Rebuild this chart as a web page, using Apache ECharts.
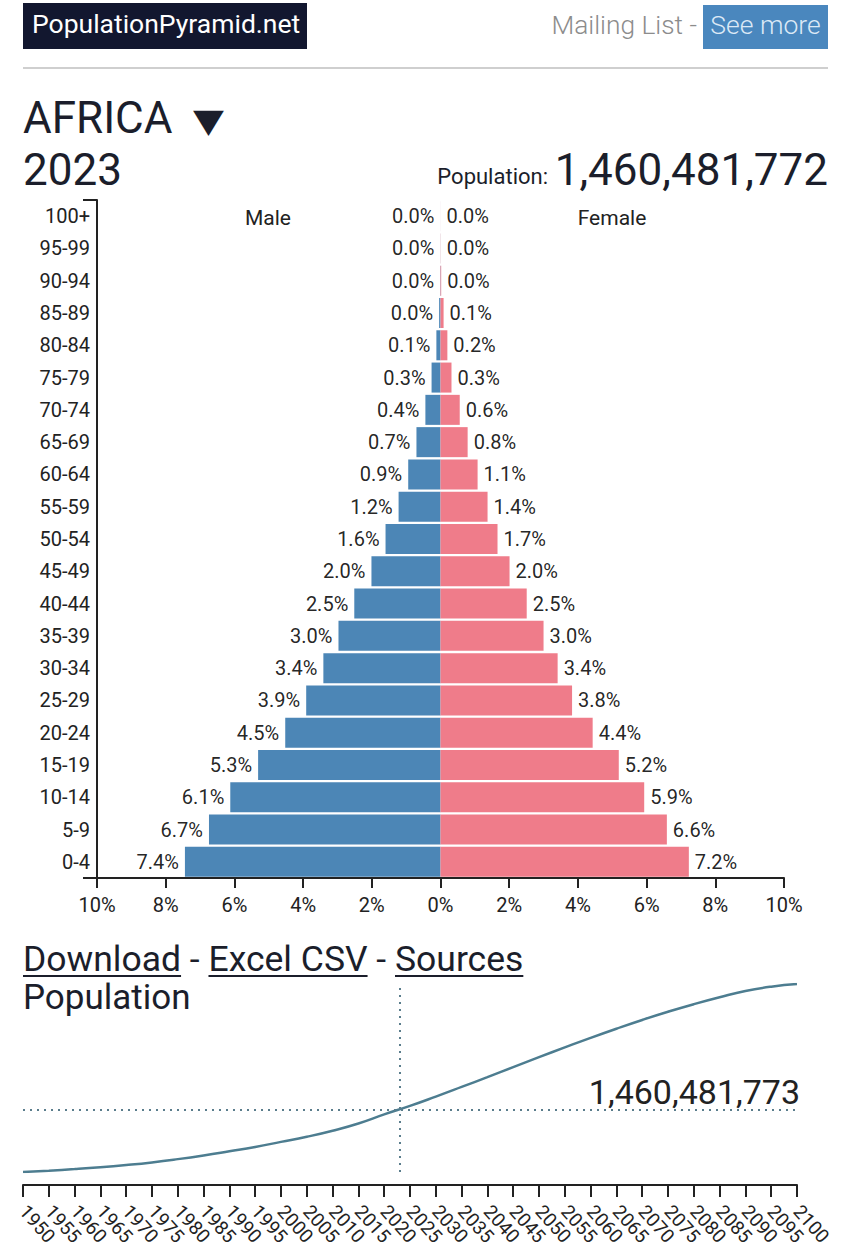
<!DOCTYPE html>
<html>
<head>
<meta charset="utf-8">
<script src="https://cdn.jsdelivr.net/npm/echarts@6/dist/echarts.min.js"></script>
<style>
  html, body { margin: 0; padding: 0; background: #fff; }
  body { width: 850px; height: 1259px; position: relative; overflow: hidden; font-family: Roboto, "Noto Sans", sans-serif; color: #1b1e2b; }
  #chart { position: absolute; left: 0; top: 0; width: 850px; height: 1259px; }
  .t { position: absolute; line-height: 1; white-space: nowrap; }
  .u { text-decoration: underline; text-decoration-thickness: 2px; text-underline-offset: 4px; }
</style>
</head>
<body>
<div id="chart"></div>

<div class="t" style="left:23px;top:3px;width:284px;height:46px;background:#12172f;"></div>
<div class="t" style="left:32px;top:11px;font-size:26.5px;color:#fff;">PopulationPyramid.net</div>
<div class="t" style="right:153px;top:12px;font-size:26.3px;font-weight:300;color:#8c8c8c;">Mailing List -</div>
<div class="t" style="left:703px;top:5px;width:125px;height:44px;background:#4a87be;"></div>
<div class="t" style="left:703px;top:12px;width:125px;text-align:center;font-size:26.5px;font-weight:300;color:#dce9f6;">See more</div>
<div class="t" style="left:23px;top:67px;width:805px;height:0;border-top:2px solid #cfcfcf;"></div>

<div class="t" style="left:23px;top:96px;font-size:44px;">AFRICA</div>
<div class="t" style="left:193px;top:104px;font-size:33px;font-family:'DejaVu Sans';transform:scaleX(1.22);transform-origin:left top;">▼</div>
<div class="t" style="left:23px;top:148px;font-size:44px;">2023</div>
<div class="t" style="right:302px;top:166px;font-size:22px;">Population:</div>
<div class="t" style="right:22px;top:148px;font-size:44px;">1,460,481,772</div>

<div class="t" style="left:228px;width:80px;text-align:center;top:208px;font-size:21px;color:#222;">Male</div>
<div class="t" style="left:562px;width:100px;text-align:center;top:208px;font-size:21px;color:#222;">Female</div>

<div class="t" style="left:23px;top:942px;font-size:35.5px;"><span class="u">Download</span> - <span class="u">Excel CSV</span> - <span class="u">Sources</span></div>
<div class="t" style="left:23px;top:980px;font-size:35px;">Population</div>

<script>
// ---- Pyramid data (share of total population, %) ----
const ageGroups = ['0-4','5-9','10-14','15-19','20-24','25-29','30-34','35-39','40-44','45-49','50-54','55-59','60-64','65-69','70-74','75-79','80-84','85-89','90-94','95-99','100+'];
const maleShare = [7.44, 6.74, 6.12, 5.31, 4.52, 3.91, 3.41, 2.97, 2.51, 2.01, 1.60, 1.22, 0.94, 0.70, 0.44, 0.26, 0.12, 0.04, 0.01, 0.002, 0.0005];
const femaleShare = [7.23, 6.59, 5.93, 5.19, 4.43, 3.83, 3.41, 3.00, 2.51, 2.01, 1.66, 1.37, 1.08, 0.79, 0.56, 0.32, 0.20, 0.09, 0.02, 0.004, 0.001];
const shareTicks = [-10, -8, -6, -4, -2, 0, 2, 4, 6, 8, 10];

// ---- Population over time (millions) ----
const years = [1950,1955,1960,1965,1970,1975,1980,1985,1990,1995,2000,2005,2010,2015,2020,2025,2030,2035,2040,2045,2050,2055,2060,2065,2070,2075,2080,2085,2090,2095,2100];
const populationM = [227,254,284,320,364,416,480,553,635,720,819,920,1039,1182,1360,1527,1710,1900,2093,2290,2485,2677,2865,3045,3217,3378,3527,3663,3786,3872,3924];
const currentYear = 2023;
const currentPopulation = 1460481773;

const ink = '#222';
const chart = echarts.init(document.getElementById('chart'), null, { renderer: 'svg' });

chart.setOption({
  animation: false,
  textStyle: { fontFamily: 'Roboto, "Noto Sans", sans-serif' },
  grid: [
    { left: 97, top: 200, width: 687, height: 678 },
    { left: 23, top: 984, width: 774, height: 188 }
  ],
  xAxis: [
    {
      type: 'value', gridIndex: 0, min: shareTicks[0], max: shareTicks[shareTicks.length - 1], interval: 2,
      axisLine: { show: true, onZero: false, lineStyle: { color: ink, width: 2 } },
      axisTick: { show: true, length: 10, lineStyle: { color: ink, width: 2 } },
      axisLabel: { fontSize: 20, color: ink, margin: 17, formatter: v => Math.abs(v) + '%' },
      splitLine: { show: false }
    },
    {
      type: 'value', gridIndex: 1, min: years[0], max: years[years.length - 1], interval: 5, offset: 13,
      axisLine: { show: true, onZero: false, lineStyle: { color: ink, width: 2 } },
      axisTick: { show: true, length: 12, lineStyle: { color: ink, width: 2 } },
      axisLabel: { fontSize: 19, color: ink, margin: 23, rotate: -48, hideOverlap: false,
                   formatter: v => String(v), showMaxLabel: true, showMinLabel: true },
      splitLine: { show: false }
    }
  ],
  yAxis: [
    {
      type: 'category', gridIndex: 0, data: ageGroups, position: 'left',
      axisLine: { show: false, onZero: false },
      axisTick: { show: false },
      axisLabel: { fontSize: 20, color: ink, margin: 7 }
    },
    {
      type: 'value', gridIndex: 0, min: 0, max: 1, interval: 1, position: 'left',
      axisLine: { show: true, onZero: false, lineStyle: { color: ink, width: 2 } },
      axisTick: { show: true, length: 14, lineStyle: { color: ink, width: 2 } },
      axisLabel: { show: false },
      splitLine: { show: false }
    },
    {
      type: 'value', gridIndex: 1, min: 'dataMin', max: 'dataMax', show: false,
      axisLine: { onZero: false }, splitLine: { show: false }
    }
  ],
  series: [
    {
      name: 'Male', type: 'bar', xAxisIndex: 0, yAxisIndex: 0, stack: 'pyr',
      barCategoryGap: '7%',
      data: maleShare.map(v => -v),
      itemStyle: { color: '#4682b4', opacity: 0.97 },
      label: { show: true, position: 'left', distance: 6, fontSize: 20, color: ink, formatter: p => Math.abs(p.value).toFixed(1) + '%' }
    },
    {
      name: 'Female', type: 'bar', xAxisIndex: 0, yAxisIndex: 0, stack: 'pyr',
      barCategoryGap: '7%',
      data: femaleShare,
      itemStyle: { color: '#ee7886', opacity: 0.97 },
      label: { show: true, position: 'right', distance: 6, fontSize: 20, color: ink, formatter: p => p.value.toFixed(1) + '%' }
    },
    {
      name: 'Population', type: 'line', xAxisIndex: 1, yAxisIndex: 2,
      data: years.map((y, i) => [y, populationM[i]]),
      smooth: true, showSymbol: false, symbol: 'none',
      lineStyle: { color: '#4d7d90', width: 2.5 },
      markLine: {
        silent: true, symbol: 'none',
        lineStyle: { color: '#5a7d8c', type: [2, 5], width: 2 },
        data: [
          { xAxis: currentYear, label: { show: false } },
          { yAxis: currentPopulation / 1e6,
            label: { show: true, position: 'insideEndTop', distance: 0, fontSize: 34, color: ink, padding: [0, -3, 0, 0],
                     formatter: () => currentPopulation.toLocaleString('en-US') } }
        ]
      }
    }
  ]
});
</script>
</body>
</html>
